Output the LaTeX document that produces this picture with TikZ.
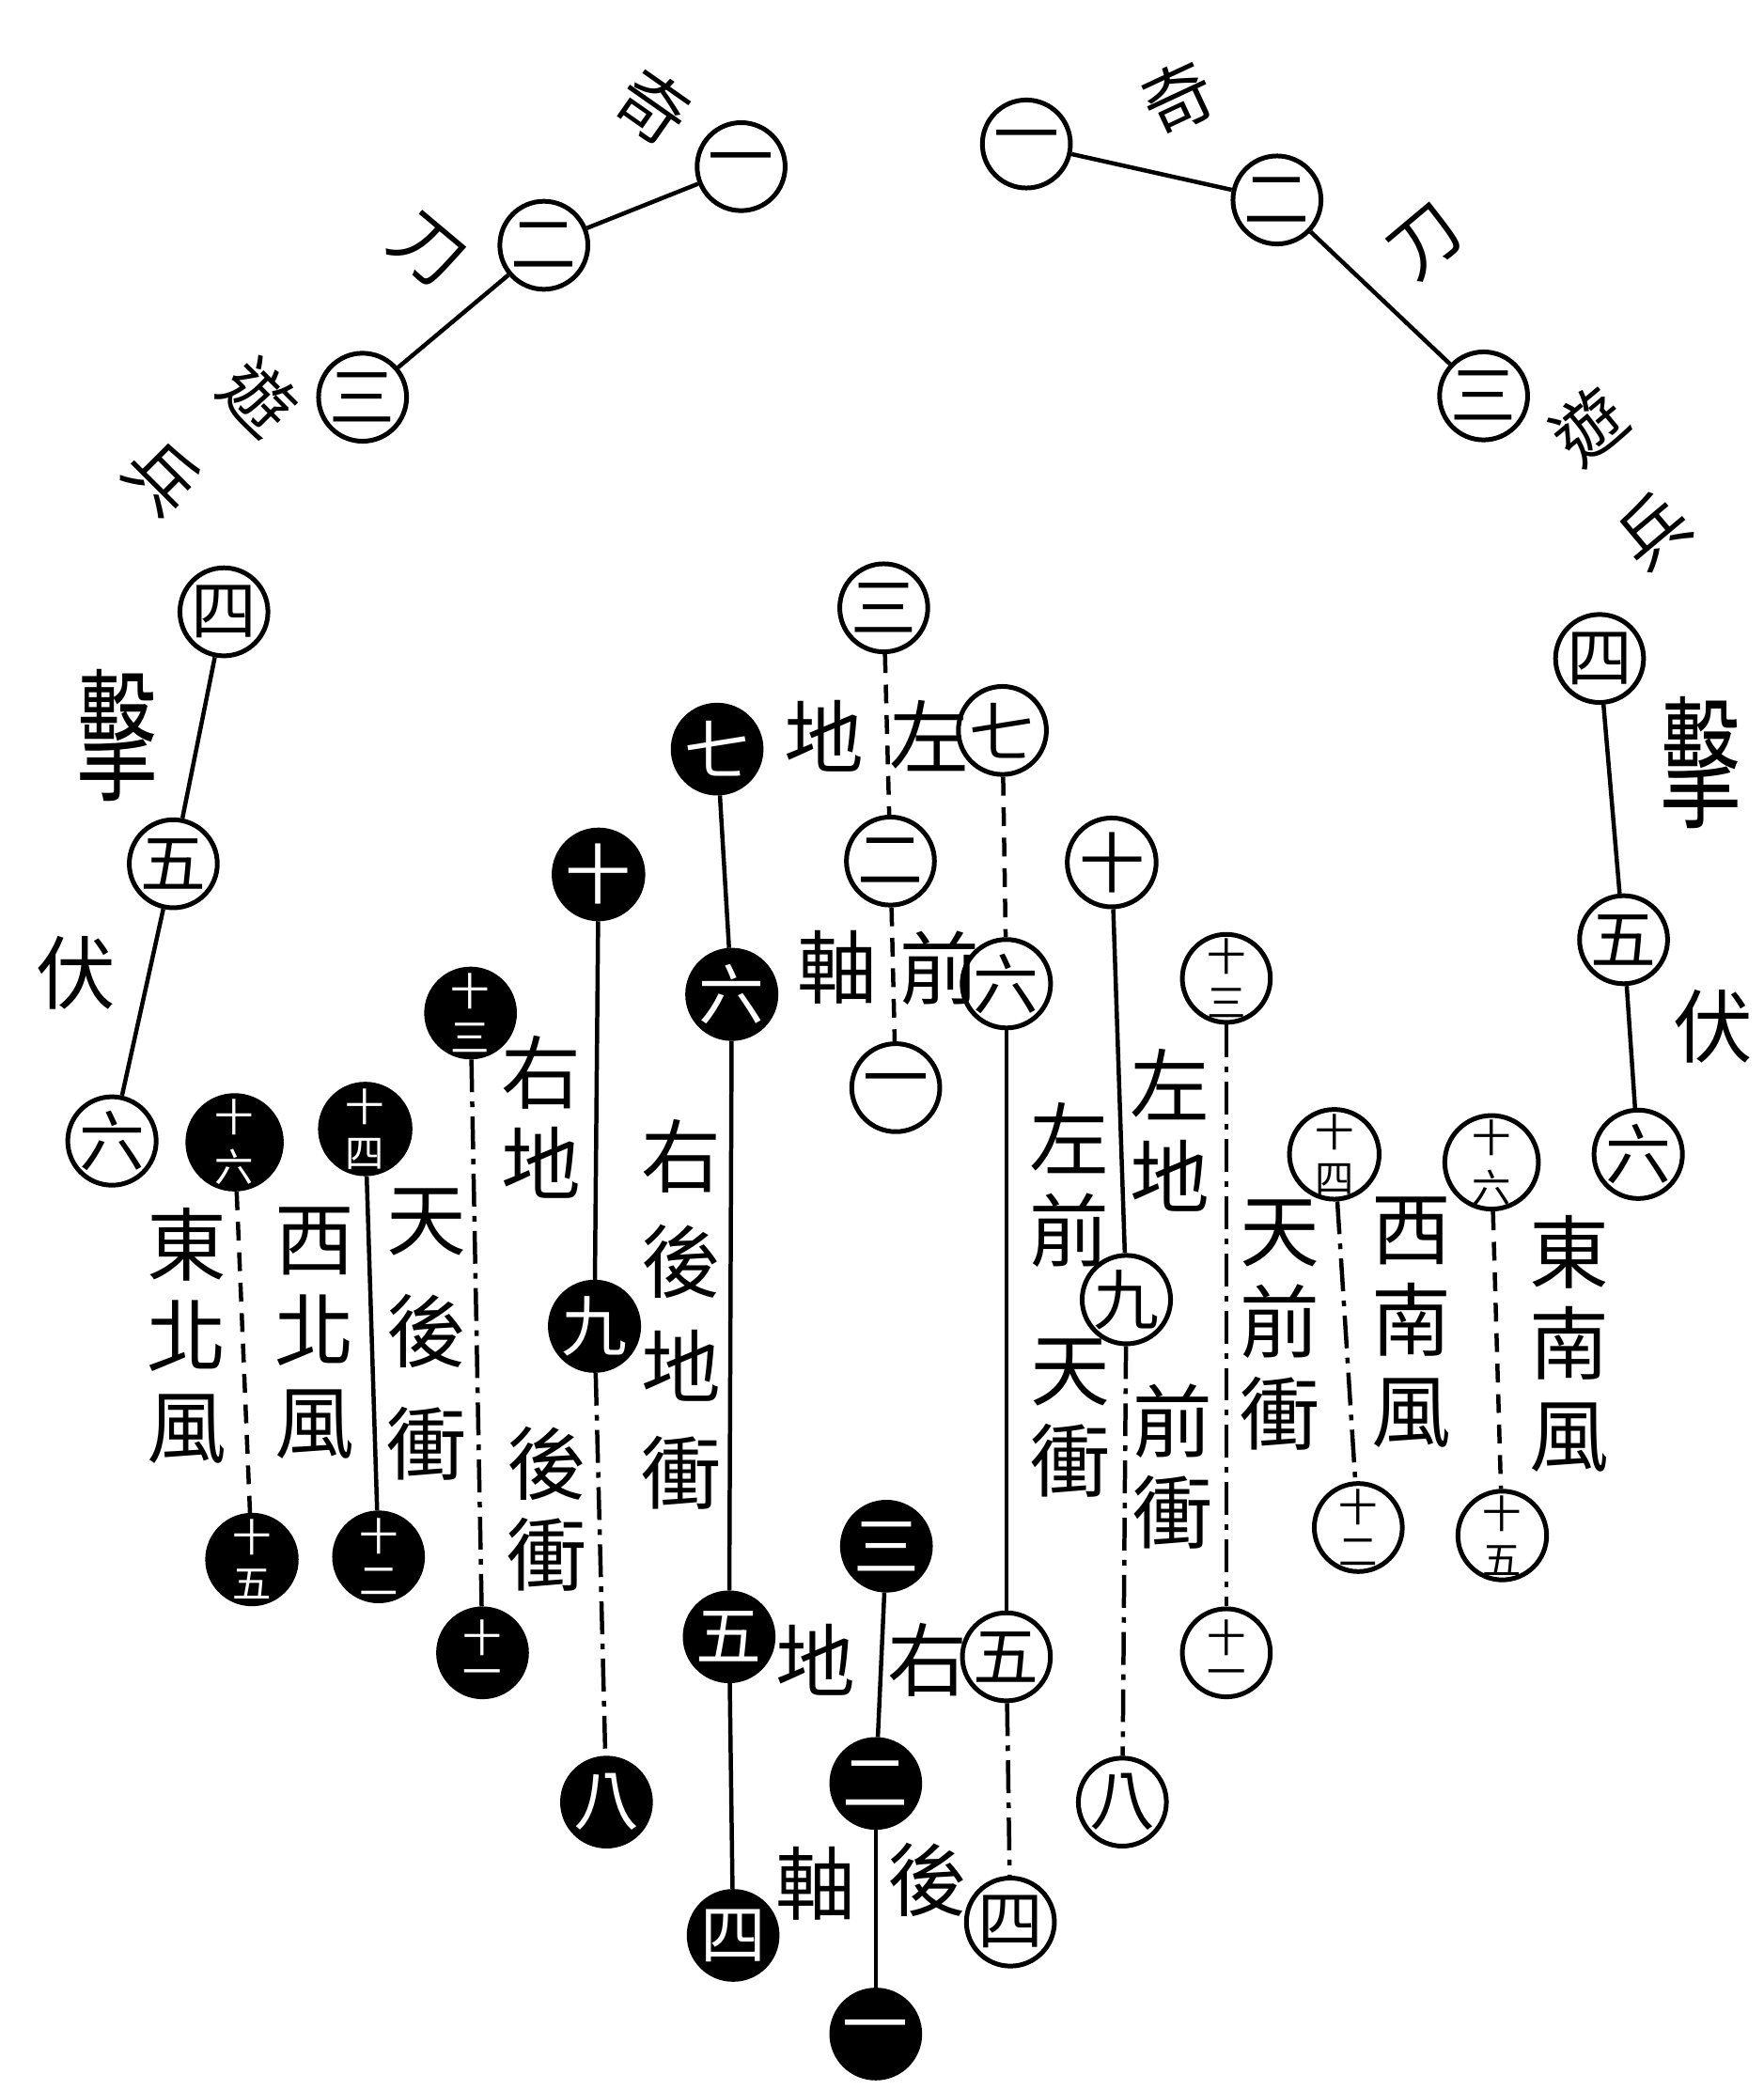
\documentclass[tikz,border=0pt]{standalone}
\usepackage{fontspec}
\usepackage{graphicx}
\usepackage{tikz}
\newfontfamily\cjk{Noto Sans CJK TC}
\newcommand{\numstack}[2]{{\fontsize{8.3}{8.3}\selectfont\shortstack{#1\\#2}}}

\begin{document}
\begin{tikzpicture}[
    x=0.01cm, y=-0.01cm,
    wnum/.style={
      circle,
      draw=black,
      line width=1pt,
      fill=white,
      minimum size=0.66cm,
      inner sep=0pt,
      font=\cjk\fontsize{14}{14}\selectfont
    },
    bnum/.style={wnum, fill=black, text=white},
    tag/.style={inner sep=0pt, align=center, font=\cjk\fontsize{17}{19.5}\selectfont},
    arctag/.style={tag, font=\cjk\fontsize{15}{15}\selectfont},
    solidlink/.style={line width=0.9pt},
    dashlink/.style={line width=0.9pt, dash pattern=on 4pt off 2.5pt},
    dotlink/.style={line width=0.9pt, dash pattern=on 7pt off 2pt on 1.2pt off 2pt}
  ]
  \useasboundingbox (0,0) rectangle (1323,1568);

  \node (la1) at (556,125) [wnum] {一};
  \node (la2) at (408,184) [wnum] {二};
  \node (la3) at (272,298) [wnum] {三};
  \node (la4) at (168,459) [wnum] {四};
  \node (la5) at (130,648) [wnum] {五};
  \node (la6) at (84,856)  [wnum] {六};
  \node (ra1) at (770,108)  [wnum] {一};
  \node (ra2) at (958,150)  [wnum] {二};
  \node (ra3) at (1113,297) [wnum] {三};
  \node (ra4) at (1200,494) [wnum] {四};
  \node (ra5) at (1218,705) [wnum] {五};
  \node (ra6) at (1229,866) [wnum] {六};

  \node (lqi)   at (490,80)  [arctag, rotate=-35] {奇};
  \node (ldao)  at (320,188) [arctag, rotate=-40] {刀};
  \node (lyou)  at (194,298) [arctag, rotate=-45] {遊};
  \node (lbing) at (122,358) [arctag, rotate=-45] {兵};
  \node (rqi)   at (884,73)   [arctag, rotate=25] {奇};
  \node (rdao)  at (1070,182) [arctag, rotate=40] {刀};
  \node (ryou)  at (1192,320) [arctag, rotate=40] {遊};
  \node (rbing) at (1240,398) [arctag, rotate=40] {兵};
  \node (lji) at (88,552)   [tag] {\scalebox{1}[1.8]{擊}};
  \node (lfu) at (57,730)   [tag] {伏};
  \node (rji) at (1276,572) [tag] {\scalebox{1}[1.8]{擊}};
  \node (rfu) at (1285,770) [tag] {伏};

  \node (w1)  at (672,816)  [wnum] {一};
  \node (w2)  at (668,646)  [wnum] {二};
  \node (w3)  at (663,456)  [wnum] {三};
  \node (w4)  at (758,1442) [wnum] {四};
  \node (w5)  at (755,1243) [wnum] {五};
  \node (w6)  at (755,738)  [wnum] {六};
  \node (w7)  at (752,548)  [wnum] {七};
  \node (w8)  at (842,1352) [wnum] {八};
  \node (w9)  at (845,975)  [wnum] {九};
  \node (w10) at (834,647)  [wnum] {十};
  \node (w11) at (920,1240) [wnum] {\numstack{十}{一}};
  \node (w12) at (1019,1146) [wnum] {\numstack{十}{二}};
  \node (w13) at (920,734)  [wnum] {\numstack{十}{三}};
  \node (w14) at (1001,866) [wnum] {\numstack{十}{四}};
  \node (w15) at (1127,1152) [wnum] {\numstack{十}{五}};
  \node (w16) at (1119,872) [wnum] {\numstack{十}{六}};

  \node (b1)  at (657,1526) [bnum] {一};
  \node (b2)  at (657,1338) [bnum] {二};
  \node (b3)  at (665,1160) [bnum] {三};
  \node (b4)  at (550,1452) [bnum] {四};
  \node (b5)  at (547,1228) [bnum] {五};
  \node (b6)  at (549,746)  [bnum] {六};
  \node (b7)  at (538,562)  [bnum] {七};
  \node (b8)  at (455,1352) [bnum] {八};
  \node (b9)  at (446,995)  [bnum] {九};
  \node (b10) at (449,656)  [bnum] {十};
  \node (b11) at (362,1240) [bnum] {\numstack{十}{一}};
  \node (b12) at (284,1168) [bnum] {\numstack{十}{二}};
  \node (b13) at (353,760)  [bnum] {\numstack{十}{三}};
  \node (b14) at (274,847)  [bnum] {\numstack{十}{四}};
  \node (b15) at (189,1170) [bnum] {\numstack{十}{五}};
  \node (b16) at (176,857)  [bnum] {\numstack{十}{六}};

  \node (zdi)   at (618,552)  [tag] {地};
  \node (zzuo)  at (697,552)  [tag] {左};
  \node (qzhou) at (628,726)  [tag] {軸};
  \node (qqian) at (705,726)  [tag] {前};
  \node (ydi)   at (612,1245) [tag] {地};
  \node (yyou)  at (696,1245) [tag] {右};
  \node (hzhou) at (612,1413) [tag] {軸};
  \node (hhou)  at (696,1410) [tag] {後};

  \node (zuodi)     at (878,848)   [tag] {左\\地};
  \node (qianchong) at (880,1100)  [tag] {前\\衝};
  \node (zuoqian)   at (802,889)   [tag] {左\\前};
  \node (tianchong) at (803,1064)  [tag] {天\\衝};
  \node (tqc)       at (960,994)   [tag] {天\\前\\衝};
  \node (xnf)       at (1059,992)  [tag] {西\\南\\風};
  \node (dnf)       at (1177,1008) [tag] {東\\南\\風};
  \node (dbf)       at (140,1002)  [tag] {東\\北\\風};
  \node (xbf)       at (236,1000)  [tag] {西\\北\\風};
  \node (thc)       at (320,1001)  [tag, font=\cjk\fontsize{17}{24}\selectfont] {天\\後\\衝};
  \node (youdi)     at (406,838)   [tag] {右\\地};
  \node (houchong)  at (410,1132)  [tag] {後\\衝};
  \node (yhdc)      at (511,986)   [tag, font=\cjk\fontsize{17}{22.5}\selectfont] {右\\後\\地\\衝};

  \draw[solidlink] (la1) -- (la2);
  \draw[solidlink] (la2) -- (la3);
  \draw[solidlink] (la4) -- (la5);
  \draw[solidlink] (la5) -- (la6);
  \draw[solidlink] (ra1) -- (ra2);
  \draw[solidlink] (ra2) -- (ra3);
  \draw[solidlink] (ra4) -- (ra5);
  \draw[solidlink] (ra5) -- (ra6);

  \draw[dashlink] (w3) -- (w2);
  \draw[dashlink] (w2) -- (w1);
  \draw[dashlink] (w7) -- (w6);
  \draw[solidlink] (w6) -- (w5);
  \draw[dotlink] (w5) -- (w4);
  \draw[solidlink] (w10) -- (w9);
  \draw[dotlink] (w9) -- (w8);
  \draw[dotlink] (w13) -- (w11);
  \draw[dotlink] (w14) -- (w12);
  \draw[dashlink] (w16) -- (w15);

  \draw[solidlink] (b3) -- (b2);
  \draw[solidlink] (b2) -- (b1);
  \draw[solidlink] (b7) -- (b6);
  \draw[solidlink] (b6) -- (b5);
  \draw[solidlink] (b5) -- (b4);
  \draw[solidlink] (b10) -- (b9);
  \draw[dotlink] (b9) -- (b8);
  \draw[dotlink] (b13) -- (b11);
  \draw[solidlink] (b14) -- (b12);
  \draw[dashlink] (b16) -- (b15);
\end{tikzpicture}
\end{document}
